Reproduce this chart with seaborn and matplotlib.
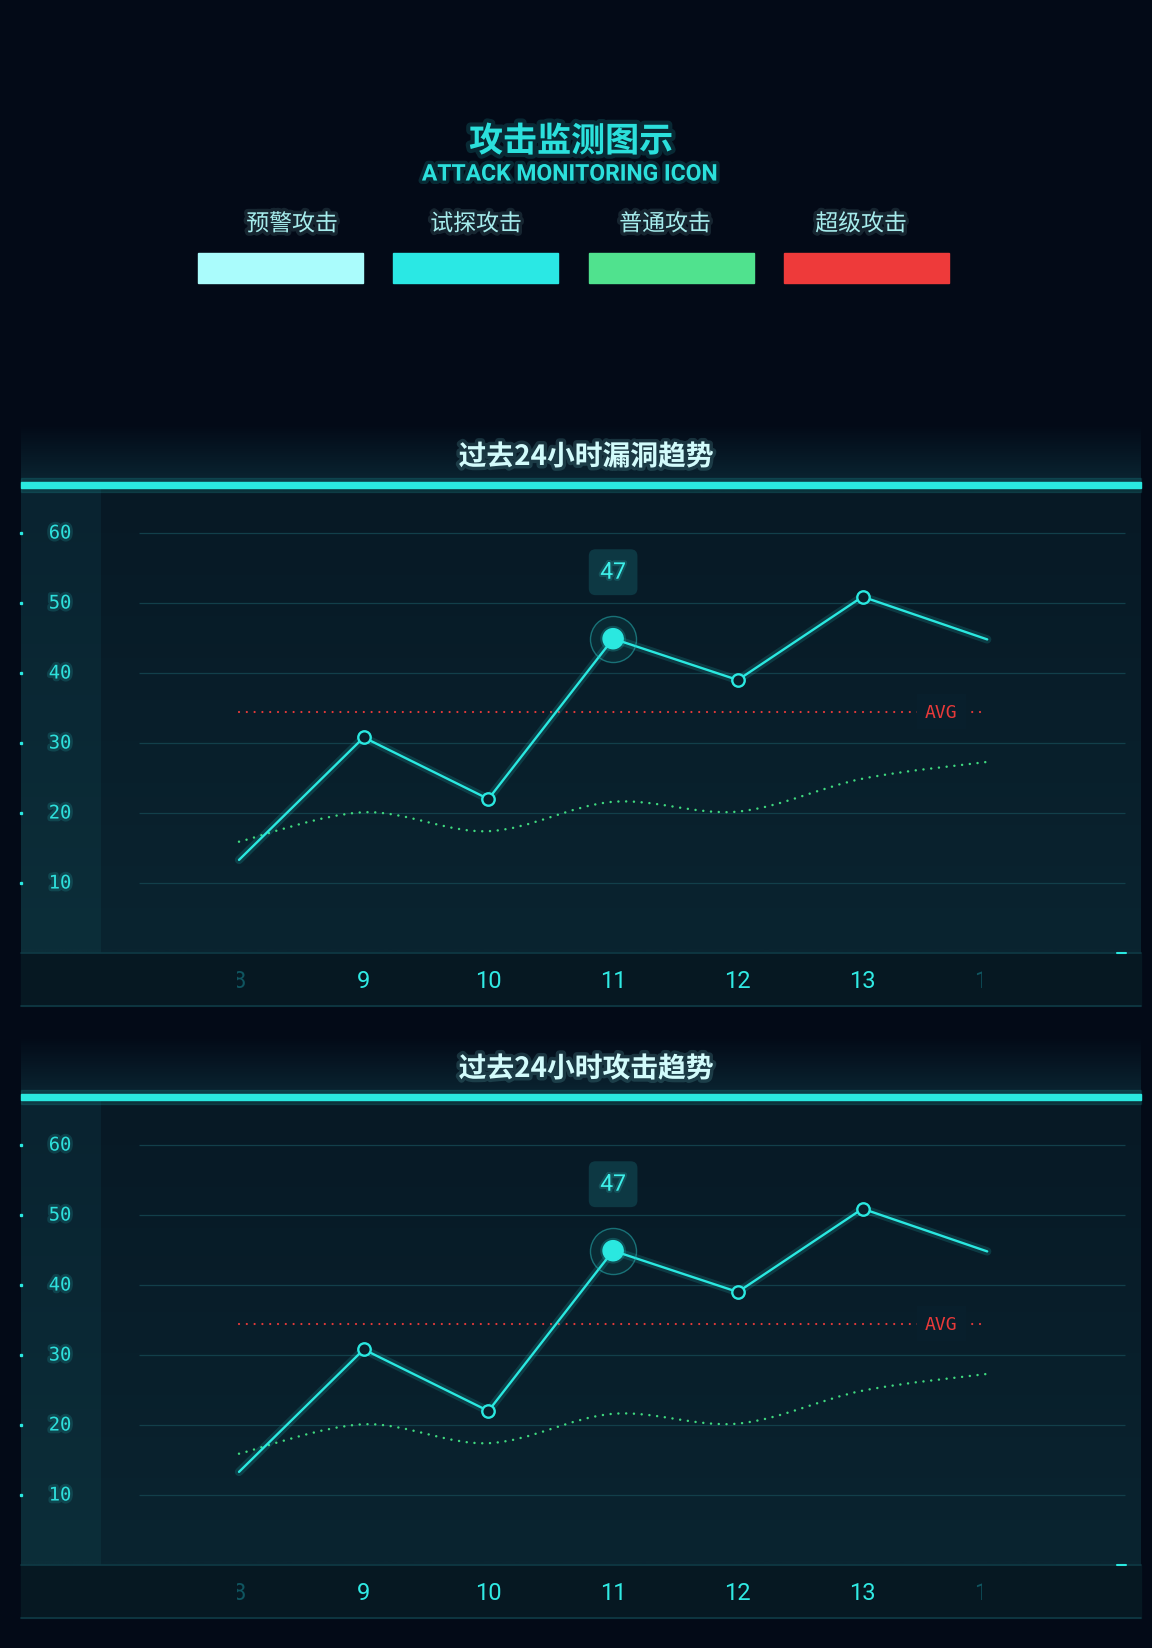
import numpy as np
import pandas as pd
import seaborn as sns
import matplotlib.pyplot as plt
import matplotlib.patheffects as pe
from matplotlib.colors import to_rgb
from matplotlib.patches import Rectangle, PathPatch
from matplotlib.path import Path
from matplotlib.transforms import Bbox, TransformedBbox, blended_transform_factory

# ---- data ----
legend_labels = ["预警攻击", "试探攻击", "普通攻击", "超级攻击"]
legend_colors = ["#aafcfc", "#2ae8e4", "#50e28e", "#ee3a3a"]

panel_titles = ["过去24小时漏洞趋势", "过去24小时攻击趋势"]
hours = [8, 9, 10, 11, 12, 13, 14]
vuln_counts = [13.3, 30.8, 22.0, 44.9, 39.0, 50.9, 44.8]
attack_counts = [13.3, 30.8, 22.0, 44.9, 39.0, 50.9, 44.8]
baseline = [15.9, 20.1, 17.4, 21.6, 20.2, 24.9, 27.3]
avg_value = 34.5
peak_hour = 11
peak_label = "47"
y_ticks = [10, 20, 30, 40, 50, 60]

# ---- style ----
W, H = 1152, 1649
BG = "#030a17"
CYAN = "#2ae8e0"
GRID = "#123f4a"
RED = "#e83a3a"
GREEN = "#3fd97f"
TICK = "#2ee0dc"

sns.set_theme(style="dark")
plt.rcParams["font.family"] = ["Noto Sans CJK SC", "DejaVu Sans"]
plt.rcParams["figure.facecolor"] = BG


def glow(color, w=5, a=0.15):
    return [pe.Stroke(linewidth=w, foreground=color, alpha=a), pe.Normal()]


def vgrad(ax, x0, x1, y0, y1, c0, c1):
    arr = np.linspace(to_rgb(c0), to_rgb(c1), 64)[:, None, :]
    ax.imshow(arr, extent=(x0, x1, y1, y0), aspect="auto",
              interpolation="bilinear", zorder=0)


def smooth_path(xs, ys, k=1 / 6):
    pts = np.column_stack([xs, ys]).astype(float)
    n = len(pts)
    verts = [pts[0]]
    codes = [Path.MOVETO]
    for i in range(n - 1):
        p0 = pts[max(i - 1, 0)]
        p1, p2 = pts[i], pts[i + 1]
        p3 = pts[min(i + 2, n - 1)]
        verts += [p1 + (p2 - p0) * k, p2 - (p3 - p1) * k, p2]
        codes += [Path.CURVE4] * 3
    return Path(verts, codes)


fig = plt.figure(figsize=(W / 100, H / 100), dpi=100)
bg = fig.add_axes([0, 0, 1, 1], zorder=0)
bg.set_autoscale_on(False)
bg.set_xlim(0, W)
bg.set_ylim(H, 0)
bg.axis("off")
bg.add_patch(Rectangle((0, 0), W, H, color=BG, zorder=-1))

# ---- header ----
bg.text(571, 142, "攻击监测图示", ha="center", va="center", fontsize=24.5,
        fontweight="bold", color="#2be0dc", path_effects=glow("#2be0dc", 6, 0.15))
bg.text(570, 175, "ATTACK MONITORING ICON", ha="center", va="center",
        fontsize=16.5, fontweight="bold", family=["Roboto", "DejaVu Sans"],
        color="#2be0dc", path_effects=glow("#2be0dc", 5, 0.15))

label_x = [292, 476, 665, 861]
for i, (lab, col) in enumerate(zip(legend_labels, legend_colors)):
    bg.text(label_x[i], 225, lab, ha="center", va="center", fontsize=16.5,
            color="#a6ecec", path_effects=glow("#a6ecec", 5, 0.12))
    bg.add_patch(Rectangle((198 + i * 195.3, 254), 165, 30, color=col, zorder=2))


def draw_panel(top, title, counts):
    plot_bot = top + 465
    band_bot = plot_bot + 53
    # panel background pieces
    vgrad(bg, 21, 1141, top - 64, top - 6, BG, "#0a2431")
    vgrad(bg, 21, 1141, top, plot_bot, "#071925", "#0a2430")
    vgrad(bg, 21, 101, top, plot_bot, "#092330", "#0c2e39")
    bg.add_patch(Rectangle((21, plot_bot), 1120, 53, color="#061822", zorder=1))
    bg.plot([21, 1141], [plot_bot, plot_bot], color="#0f3a45", lw=1.2, zorder=2)
    bg.plot([21, 1141], [band_bot, band_bot], color="#0f3a45", lw=1.2, zorder=2)
    bg.plot([1117, 1126], [plot_bot, plot_bot], color=CYAN, lw=1.5, zorder=3)
    bg.add_patch(Rectangle((21, top - 10), 1120, 14, color=CYAN, alpha=0.12, zorder=2))
    bg.add_patch(Rectangle((21, top - 6), 1120, 6, color=CYAN, zorder=3))
    bg.text(586, top - 31, title, ha="center", va="center", fontsize=20,
            fontweight="bold", color="#d2fbfb", path_effects=glow("#8ff5f5", 5, 0.15))

    ax = fig.add_axes([21 / W, 1 - plot_bot / H, 1120 / W, 465 / H], zorder=1)
    ax.set_facecolor("none")
    for s in ax.spines.values():
        s.set_visible(False)
    ax.set_xlim(6.2518, 15.2333)
    ax.set_ylim(0, 66.43)
    ax.set_xticks([])
    ax.set_yticks([])

    ax.hlines(y_ticks, 7.198, 15.105, colors=GRID, lw=0.9, zorder=1)
    trans = blended_transform_factory(ax.transAxes, ax.transData)
    for v in y_ticks:
        ax.text(39 / 1120, v, str(v), transform=trans, ha="center", va="center",
                fontsize=13.5, family="DejaVu Sans Mono", color=TICK,
                path_effects=glow(TICK, 4, 0.15))
    ax.plot([0] * len(y_ticks), y_ticks, ls="none", marker="s", ms=1.4,
            color=CYAN, transform=trans, clip_on=False)

    # x labels, faded and clipped at the ends
    clip = TransformedBbox(Bbox([[7.98, -10], [13.96, 0]]), ax.transData)
    for h in hours:
        edge = h in (hours[0], hours[-1])
        t = ax.text(h, -4, str(h), ha="center", va="center", fontsize=17,
                    family=["Roboto", "DejaVu Sans"],
                    color="#0f5560" if edge else "#30eae4")
        t.set_clip_path(None)
        t.set_clip_box(clip)
        t.set_clip_on(True)

    df = pd.DataFrame({"hour": hours, "count": counts, "base": baseline})

    # baseline smooth dotted curve
    ax.add_patch(PathPatch(smooth_path(df["hour"], df["base"]), fill=False,
                           edgecolor=GREEN, lw=1.8, linestyle=(0, (0.01, 3.1)),
                           capstyle="round", zorder=3))

    # average line
    ax.hlines(avg_value, hours[0], hours[-1], colors=RED, lw=1.6,
              linestyles=(0, (0.01, 3.5)), capstyle="round", zorder=3)
    ax.text(13.63, avg_value, "AVG", ha="center", va="center", fontsize=13,
            family="DejaVu Sans Mono", color=RED, zorder=4,
            bbox=dict(boxstyle="square,pad=0.45", fc="#081f2c", ec="none"))

    # main line
    sns.lineplot(data=df, x="hour", y="count", ax=ax, color=CYAN, lw=1.7, zorder=5)
    ax.lines[-1].set_path_effects(glow(CYAN, 6, 0.15))

    mask = ~df["hour"].isin([hours[0], hours[-1], peak_hour])
    sns.scatterplot(data=df[mask], x="hour", y="count", ax=ax, s=80,
                    color="#08202c", edgecolor=CYAN, linewidth=1.7, zorder=6)

    peak = df[df["hour"] == peak_hour]
    ax.scatter(peak["hour"], peak["count"], s=1100, facecolors=(0.16, 0.9, 0.88, 0.07),
               edgecolors=(0.16, 0.75, 0.75, 0.5), linewidths=1.0, zorder=6)
    ax.scatter(peak["hour"], peak["count"], s=210, color=CYAN, zorder=7,
               path_effects=glow(CYAN, 4, 0.2))

    ax.text(peak_hour, 54.4, peak_label, ha="center", va="center", fontsize=16.5,
            family=["Roboto", "DejaVu Sans"], color="#3ef0ea", zorder=8,
            path_effects=glow("#3ef0ea", 3, 0.15),
            bbox=dict(boxstyle="round,pad=0.5,rounding_size=0.3", fc="#0d3843", ec="none"))
    ax.set_xlabel("")
    ax.set_ylabel("")
    return ax


draw_panel(489, panel_titles[0], vuln_counts)
draw_panel(1101, panel_titles[1], attack_counts)

fig.savefig("out.png", dpi=100, facecolor=BG)
